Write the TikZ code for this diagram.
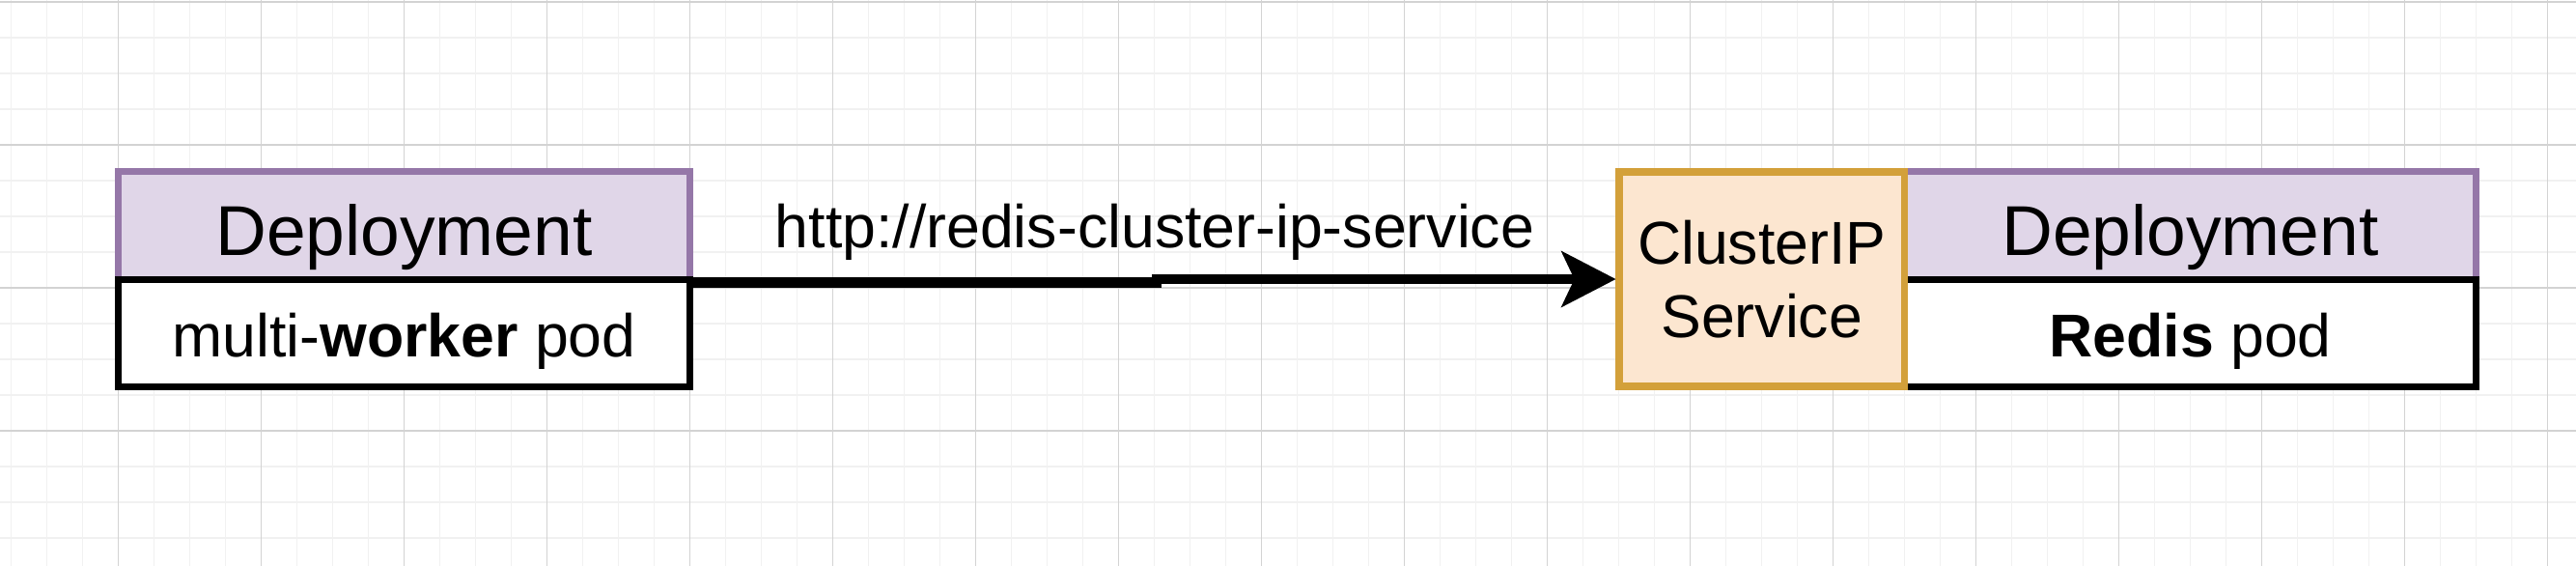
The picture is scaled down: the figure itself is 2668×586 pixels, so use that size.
\documentclass[tikz,border=0pt]{standalone}
\usepackage{fontspec}
\setmainfont{Liberation Sans}
\usetikzlibrary{arrows.meta,positioning,calc}
\definecolor{gridmajor}{HTML}{D3D3D3}
\definecolor{gridminor}{HTML}{F1F1F1}
\definecolor{deplfill}{HTML}{E0D6E8}
\definecolor{deplline}{HTML}{9577A8}
\definecolor{svcfill}{HTML}{FCE6D0}
\definecolor{svcline}{HTML}{D3A03A}
\tikzset{
  deplhead/.style={draw=deplline, fill=deplfill, line width=0.07cm, minimum width=5.92cm, minimum height=1.11cm,
    inner sep=0pt, outer sep=0pt, font=\fontsize{20.8}{25}\selectfont, text height=0.62cm, text depth=0pt},
  podbox/.style={draw=black, fill=white, line width=0.07cm, minimum width=5.92cm, minimum height=1.11cm,
    inner sep=0pt, outer sep=0pt, font=\fontsize{17.8}{21.6}\selectfont, text height=0.49cm, text depth=0pt},
  svcbox/.style={draw=svcline, fill=svcfill, line width=0.075cm, minimum width=2.95cm, minimum height=2.22cm,
    inner sep=0pt, outer sep=0pt, align=center, font=\fontsize{17.8}{21.6}\selectfont},
  flow/.style={line width=0.106cm, -{Stealth[length=0.56cm, width=0.57cm, inset=0.13cm]}},
  urltext/.style={font=\fontsize{17.8}{21.6}\selectfont, inner sep=0pt}
}
\begin{document}
\begin{tikzpicture}[x=0.01cm, y=-0.01cm]
            \useasboundingbox (0,0) rectangle (2668,586);%
            \clip (0,0) rectangle (2668,586);%
            
            % Drawing minor grid
            \foreach \gx in {0,...,71}
              \draw [gridminor, line width=0.012cm] (11.3+37*\gx,0) -- (11.3+37*\gx,586);%
            \foreach \gy in {0,...,15}
              \draw [gridminor, line width=0.012cm] (0,2+37*\gy) -- (2668,2+37*\gy);%
            
            % Drawing major grid
            \foreach \gx in {0,...,17}
              \draw [gridmajor, line width=0.012cm] (122.3+148*\gx,0) -- (122.3+148*\gx,586);%
            \foreach \gy in {0,...,3}
              \draw [gridmajor, line width=0.012cm] (0,2+148*\gy) -- (2668,2+148*\gy);%
            
            % Marking deployment of worker
            \node (lhead) [deplhead] at (418.5,233.5) {Deployment};%
            \node (lpod) [podbox, below=0pt of lhead] {multi-\textbf{worker} pod};%
            
            % Marking deployment of redis
            \node (rhead) [deplhead] at (2268.5,233.5) {Deployment};%
            \node (rpod) [podbox, below=0pt of rhead] {\textbf{Redis} pod};%
            
            % Marking service in front of redis
            \node (svc) [svcbox, anchor=north east] at (rhead.north west) {ClusterIP\\Service};%
            
            % Drawing request line
            \coordinate (jog) at (1198,291);%
            \draw [flow, shorten >=0.035cm] ($(lpod.north east)+(0,3.5)$) -| (jog)
              node [urltext, anchor=base, yshift=0.34cm, xshift=-0.02cm] {http://redis-cluster-ip-service}
              |- (svc.west);%
\end{tikzpicture}
\end{document}
